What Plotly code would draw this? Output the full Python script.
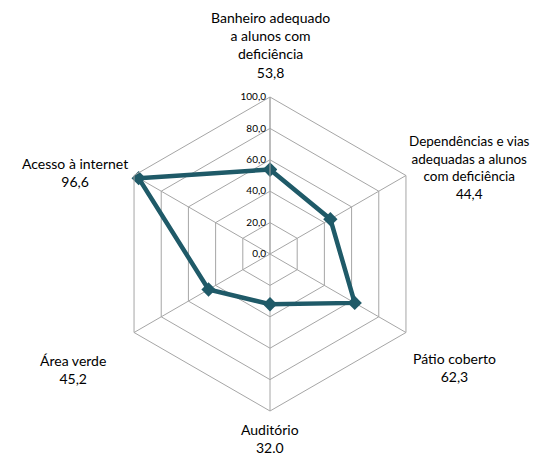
import math
import plotly.graph_objects as go

categories = [
    "Banheiro adequado<br>a alunos com<br>deficiência",
    "Dependências e vias<br>adequadas a alunos<br>com deficiência",
    "Pátio coberto",
    "Auditório",
    "Área verde",
    "Acesso à internet",
]
values = [53.8, 44.4, 62.3, 32.0, 45.2, 96.6]
value_labels = ["53,8", "44,4", "62,3", "32.0", "45,2", "96,6"]
radial_ticks = [0, 20, 40, 60, 80, 100]
radial_ticktext = ["0,0", "20,0", "40,0", "60,0", "80,0", "100,0"]

# label offsets from each outer vertex, pixels (styling)
label_shift = [(0, 52), (64, 8), (49, -35), (0, -27), (-61, -37), (-59, 3)]
label_size = [14, 13.5, 14, 14, 14, 14]

COLOR = "#1F5A68"
GRID = "#A6A6A6"
FONT = "Lato, Open Sans, sans-serif"

W, H = 539, 457
# page body adds an 8px offset; compensate in margins
ML, MT, SIZE = 105, 89, 314
MR = W - ML - SIZE
MB = H - MT - SIZE

theta = [c.split("<br>")[0] + str(i) for i, c in enumerate(categories)]

fig = go.Figure()
fig.add_trace(go.Scatterpolar(
    r=values + values[:1],
    theta=theta + theta[:1],
    mode="lines+markers",
    line=dict(color=COLOR, width=4.5),
    marker=dict(symbol="diamond", size=11, color=COLOR),
    hoverinfo="skip",
))

annotations = []
n = len(categories)
for i, (cat, lab) in enumerate(zip(categories, value_labels)):
    ang = math.radians(90 - i * 360 / n)
    x = 0.5 + 0.5 * math.cos(ang)
    y = 0.5 + 0.5 * math.sin(ang)
    annotations.append(dict(
        x=x, y=y, xref="paper", yref="paper",
        text=f"{cat}<br>{lab}", showarrow=False,
        xanchor="center", yanchor="middle",
        xshift=label_shift[i][0], yshift=label_shift[i][1],
        font=dict(family=FONT, size=label_size[i], color="#000000"),
    ))

fig.update_layout(
    width=W, height=H,
    margin=dict(l=ML, r=MR, t=MT, b=MB),
    paper_bgcolor="white",
    plot_bgcolor="white",
    showlegend=False,
    annotations=annotations,
    polar=dict(
        bgcolor="white",
        gridshape="linear",
        domain=dict(x=[0, 1], y=[0, 1]),
        angularaxis=dict(
            direction="clockwise", rotation=90,
            showticklabels=False, ticks="",
            gridcolor=GRID, gridwidth=1,
            linecolor=GRID, linewidth=1, showline=True,
        ),
        radialaxis=dict(
            range=[0, 100], tickvals=radial_ticks, ticktext=radial_ticktext,
            angle=90, tickangle=90, side="counterclockwise",
            showline=True, linecolor=GRID, linewidth=1,
            gridcolor=GRID, gridwidth=1, ticks="",
            tickfont=dict(family=FONT, size=10, color="#000000"),
        ),
    ),
)

fig.write_html("out.html")
